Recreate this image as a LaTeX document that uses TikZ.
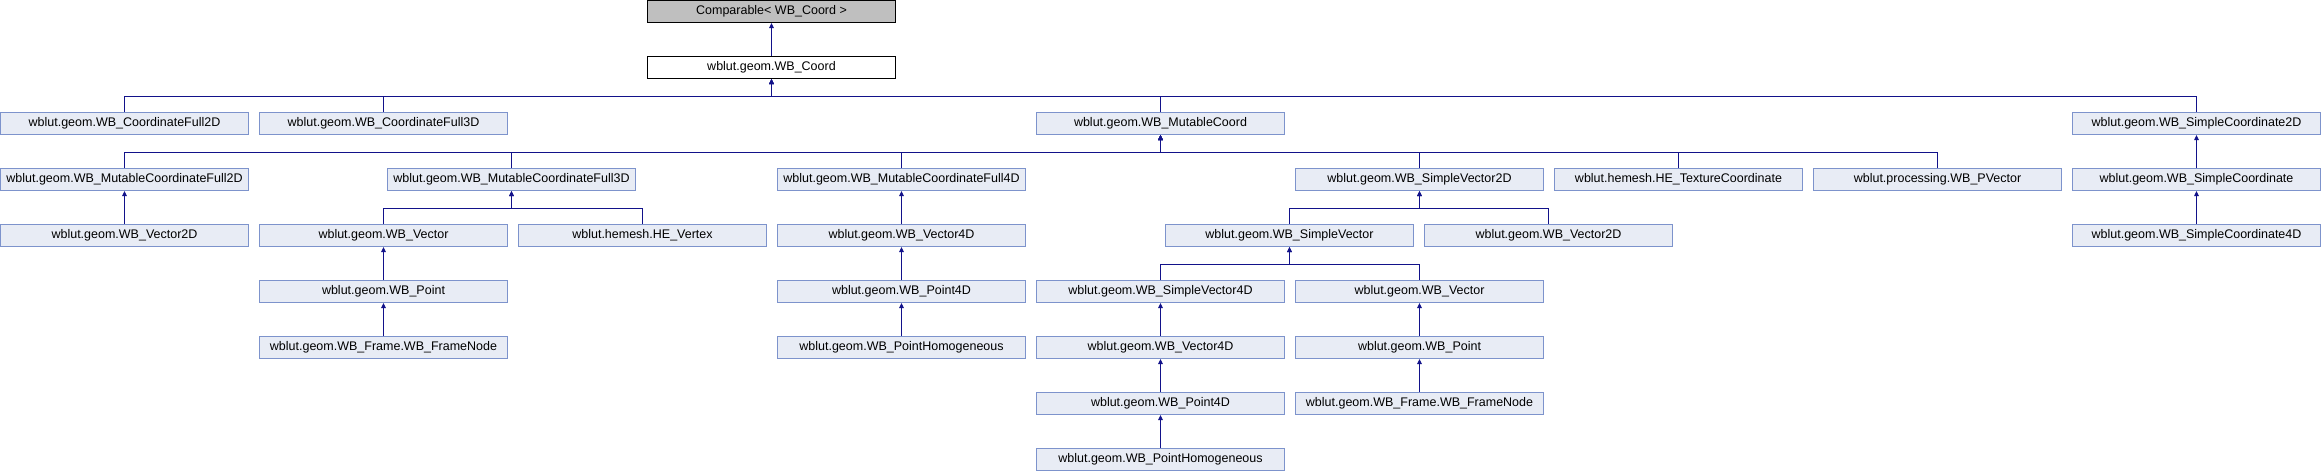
\documentclass[tikz,border=0pt]{standalone}
\usepackage{fontspec}
\setmainfont{Liberation Sans}
\usetikzlibrary{arrows.meta}
\definecolor{boxfill}{HTML}{E8ECF5}
\definecolor{boxline}{HTML}{7D93CC}
\definecolor{rootfill}{HTML}{BFBFBF}
\definecolor{edgeblue}{HTML}{12128A}

\begin{document}
\begin{tikzpicture}[x=1pt,y=-1pt,
  cls/.style={draw=boxline,fill=boxfill,line width=1pt,minimum width=248pt,minimum height=22pt,
    inner sep=0pt,font=\fontsize{12.5}{14}\selectfont},
  rootcls/.style={cls,draw=black,fill=rootfill},
  selfcls/.style={cls,draw=black,fill=white},
  inh/.style={draw=edgeblue,line width=1pt,-{Triangle[width=4.5pt,length=5pt]}}]
  \useasboundingbox (0,0) rectangle (2321,472);
  % row 0 and 1
  \node[rootcls] (cmp) at (771.5,11.5) {Comparable< WB\_Coord >};
  \node[selfcls] (coord) at (771.5,67.5) {wblut.geom.WB\_Coord};
  % row 2
  \node[cls] (cf2) at (124.5,123.5) {wblut.geom.WB\_CoordinateFull2D};
  \node[cls] (cf3) at (383.5,123.5) {wblut.geom.WB\_CoordinateFull3D};
  \node[cls] (mut) at (1160.5,123.5) {wblut.geom.WB\_MutableCoord};
  \node[cls] (sc2) at (2196.5,123.5) {wblut.geom.WB\_SimpleCoordinate2D};
  % row 3
  \node[cls] (mcf2) at (124.5,179.5) {wblut.geom.WB\_MutableCoordinateFull2D};
  \node[cls] (mcf3) at (511.5,179.5) {wblut.geom.WB\_MutableCoordinateFull3D};
  \node[cls] (mcf4) at (901.5,179.5) {wblut.geom.WB\_MutableCoordinateFull4D};
  \node[cls] (sv2) at (1419.5,179.5) {wblut.geom.WB\_SimpleVector2D};
  \node[cls] (tex) at (1678.5,179.5) {wblut.hemesh.HE\_TextureCoordinate};
  \node[cls] (pvec) at (1937.5,179.5) {wblut.processing.WB\_PVector};
  \node[cls] (sc) at (2196.5,179.5) {wblut.geom.WB\_SimpleCoordinate};
  % row 4
  \node[cls] (v2) at (124.5,235.5) {wblut.geom.WB\_Vector2D};
  \node[cls] (vec) at (383.5,235.5) {wblut.geom.WB\_Vector};
  \node[cls] (vtx) at (642.5,235.5) {wblut.hemesh.HE\_Vertex};
  \node[cls] (v4) at (901.5,235.5) {wblut.geom.WB\_Vector4D};
  \node[cls] (sv) at (1289.5,235.5) {wblut.geom.WB\_SimpleVector};
  \node[cls] (v2b) at (1548.5,235.5) {wblut.geom.WB\_Vector2D};
  \node[cls] (sc4) at (2196.5,235.5) {wblut.geom.WB\_SimpleCoordinate4D};
  % row 5
  \node[cls] (pt) at (383.5,291.5) {wblut.geom.WB\_Point};
  \node[cls] (p4) at (901.5,291.5) {wblut.geom.WB\_Point4D};
  \node[cls] (sv4) at (1160.5,291.5) {wblut.geom.WB\_SimpleVector4D};
  \node[cls] (vecb) at (1419.5,291.5) {wblut.geom.WB\_Vector};
  % row 6
  \node[cls] (fn) at (383.5,347.5) {wblut.geom.WB\_Frame.WB\_FrameNode};
  \node[cls] (ph) at (901.5,347.5) {wblut.geom.WB\_PointHomogeneous};
  \node[cls] (v4b) at (1160.5,347.5) {wblut.geom.WB\_Vector4D};
  \node[cls] (ptb) at (1419.5,347.5) {wblut.geom.WB\_Point};
  % row 7 and 8
  \node[cls] (p4b) at (1160.5,403.5) {wblut.geom.WB\_Point4D};
  \node[cls] (fnb) at (1419.5,403.5) {wblut.geom.WB\_Frame.WB\_FrameNode};
  \node[cls] (phb) at (1160.5,459.5) {wblut.geom.WB\_PointHomogeneous};
  % straight edges
  \draw[inh] (coord) -- (cmp);
  \draw[inh] (sc) -- (sc2);
  \draw[inh] (sc4) -- (sc);
  \draw[inh] (v2) -- (mcf2);
  \draw[inh] (v4) -- (mcf4);
  \draw[inh] (pt) -- (vec);
  \draw[inh] (fn) -- (pt);
  \draw[inh] (p4) -- (v4);
  \draw[inh] (ph) -- (p4);
  \draw[inh] (v4b) -- (sv4);
  \draw[inh] (p4b) -- (v4b);
  \draw[inh] (phb) -- (p4b);
  \draw[inh] (ptb) -- (vecb);
  \draw[inh] (fnb) -- (ptb);
  % bus edges
  \foreach \c in {cf2,cf3,mut,sc2}
    \draw[inh] (\c.north) -- ++(0,-15.5) -| (coord.south);
  \foreach \c in {mcf2,mcf3,mcf4,sv2,tex,pvec}
    \draw[inh] (\c.north) -- ++(0,-15.5) -| (mut.south);
  \foreach \c in {vec,vtx}
    \draw[inh] (\c.north) -- ++(0,-15.5) -| (mcf3.south);
  \foreach \c in {sv,v2b}
    \draw[inh] (\c.north) -- ++(0,-15.5) -| (sv2.south);
  \foreach \c in {sv4,vecb}
    \draw[inh] (\c.north) -- ++(0,-15.5) -| (sv.south);
\end{tikzpicture}
\end{document}
